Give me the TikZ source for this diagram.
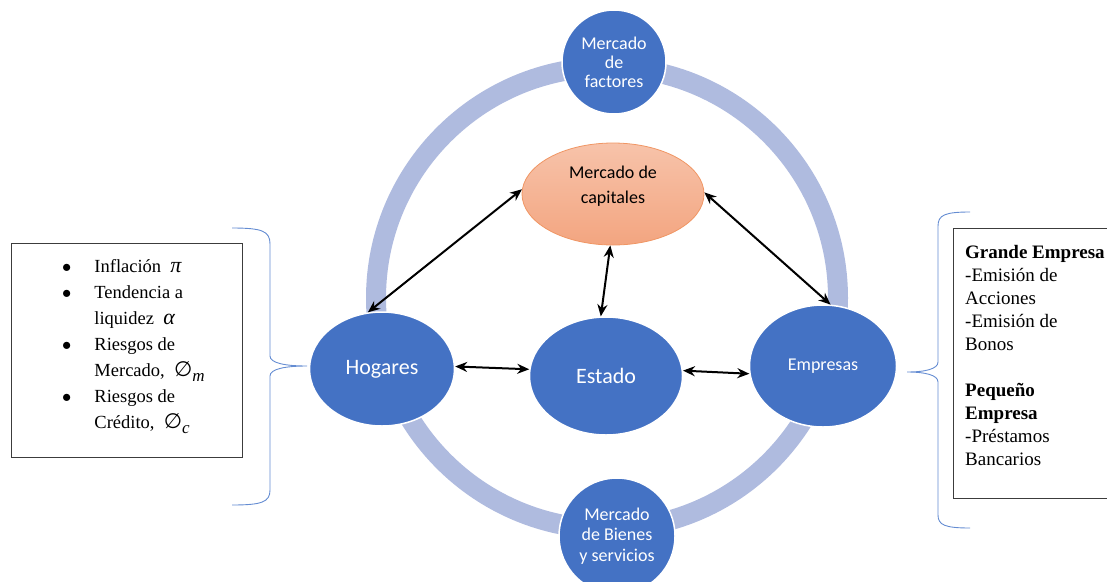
\documentclass[tikz,border=0pt]{standalone}
\usepackage{fix-cm}
\usepackage{fontspec}
\setmainfont{Liberation Serif}
\newfontfamily\calib{Carlito}
\newfontfamily\symfont{DejaVu Sans}
\usetikzlibrary{arrows.meta,shapes.geometric}

\definecolor{nodeblue}{RGB}{68,114,196}
\definecolor{ringblue}{RGB}{175,187,223}
\definecolor{bracecol}{RGB}{100,140,210}
\definecolor{capborder}{RGB}{240,150,100}
\definecolor{captop}{RGB}{247,195,170}
\definecolor{capbot}{RGB}{243,165,128}
\definecolor{boxline}{RGB}{60,60,60}

% symbols of the risk list
\newcommand{\symgr}[1]{{\itshape\fontsize{22}{26}\selectfont #1}}
\newcommand{\symrisk}[1]{{\symfont\fontsize{21}{26}\selectfont ∅}\raisebox{-5pt}{\itshape\fontsize{17}{17}\selectfont #1}}

\begin{document}
\begin{tikzpicture}[x=1pt,y=-1pt,
  agent/.style={ellipse, fill=nodeblue, draw=white, line width=1.5pt, inner sep=0pt,
    text=white, font=\calib\fontsize{22}{26}\selectfont},
  market/.style={circle, fill=nodeblue, draw=white, line width=1.5pt, inner sep=0pt,
    minimum size=#1, text=white, align=center},
  link/.style={line width=2pt, {Stealth[length=12pt,width=10pt]}-{Stealth[length=12pt,width=10pt]}},
  ring/.style={ringblue, line width=20pt},
  brace/.style={bracecol, line width=0.9pt},
  infobox/.style={draw=boxline, line width=0.8pt, inner sep=0pt, anchor=north west}]

\useasboundingbox (0,0) rectangle (1107,581);

% circular flow
\draw[ring] (607,298) circle (231);

% economic agents
\node[agent, minimum width=145pt, minimum height=114pt] (hog) at (382,369) {Hogares};
\node[agent, minimum width=153pt, minimum height=118pt] (est) at (606,376) {Estado};
\node[agent, minimum width=147pt, minimum height=122pt,
  font=\calib\fontsize{18}{22}\selectfont] (emp) at (823,366) {Empresas};

% capital market
\node[ellipse, draw=capborder, line width=0.8pt, top color=captop, bottom color=capbot,
  minimum width=182pt, minimum height=102pt, inner sep=0pt, align=center,
  font=\calib\fontsize{18}{25}\selectfont] (cap) at (613,194) {Mercado de\\capitales\\[-6pt]};

% markets on the ring
\node[market=104pt, font=\calib\fontsize{18}{19}\selectfont] (fac) at (614,62) {Mercado\\de\\factores};
\node[market=116pt, font=\calib\fontsize{18}{20.5}\selectfont] (bie) at (617,536) {Mercado\\de Bienes\\y servicios};

% flows
\draw[link] (hog.104) -- (cap.177);
\draw[link] (cap.1) -- (emp.83);
\draw[link] (cap.267) -- (est.95);
\draw[link] (hog.2) -- (est.175);
\draw[link] (est.4) -- (emp.186);

% household risk factors
\node[infobox, minimum width=231pt, minimum height=214pt] (risk) at (11,243) {};
\node[anchor=base west, inner sep=0pt, font=\fontsize{18.5}{26}\selectfont] (risklist) at (62,272)
 {\begin{tabular}[t]{@{}l@{\hspace{23pt}}l@{}}
  $\bullet$ & Inflación\ \ \symgr{π}\\
  $\bullet$ & Tendencia a\\
            & liquidez\ \ \symgr{α}\\
  $\bullet$ & Riesgos de\\
            & Mercado,\ \ \symrisk{m}\\
  $\bullet$ & Riesgos de\\
            & Crédito,\ \ \symrisk{c}
  \end{tabular}};

% firm financing
\node[infobox, minimum width=200pt, minimum height=270pt] (firm) at (953,228) {};
\node[anchor=base west, inner sep=0pt, font=\fontsize{19}{23}\selectfont] (firmlist) at (965,258)
 {\begin{tabular}[t]{@{}l@{}}
  \textbf{Grande Empresa}\\
  -Emisión de\\
  Acciones\\
  -Emisión de\\
  Bonos\\
  \\
  \textbf{Pequeño}\\
  \textbf{Empresa}\\
  -Préstamos\\
  Bancarios
  \end{tabular}};

% braces
\draw[brace] (232,228) .. controls (262,228) and (270,231) .. (270,244) -- (270,356)
  .. controls (270,363) and (285,366) .. (307,366)
  .. controls (285,366) and (270,369) .. (270,376) -- (270,490)
  .. controls (270,502) and (262,505) .. (232,505);
\draw[brace] (970,212) .. controls (945,212) and (938,215) .. (938,226) -- (938,362)
  .. controls (938,369) and (925,372) .. (907,372)
  .. controls (925,372) and (938,375) .. (938,382) -- (938,515)
  .. controls (938,525) and (945,528) .. (970,528);
\end{tikzpicture}
\end{document}
